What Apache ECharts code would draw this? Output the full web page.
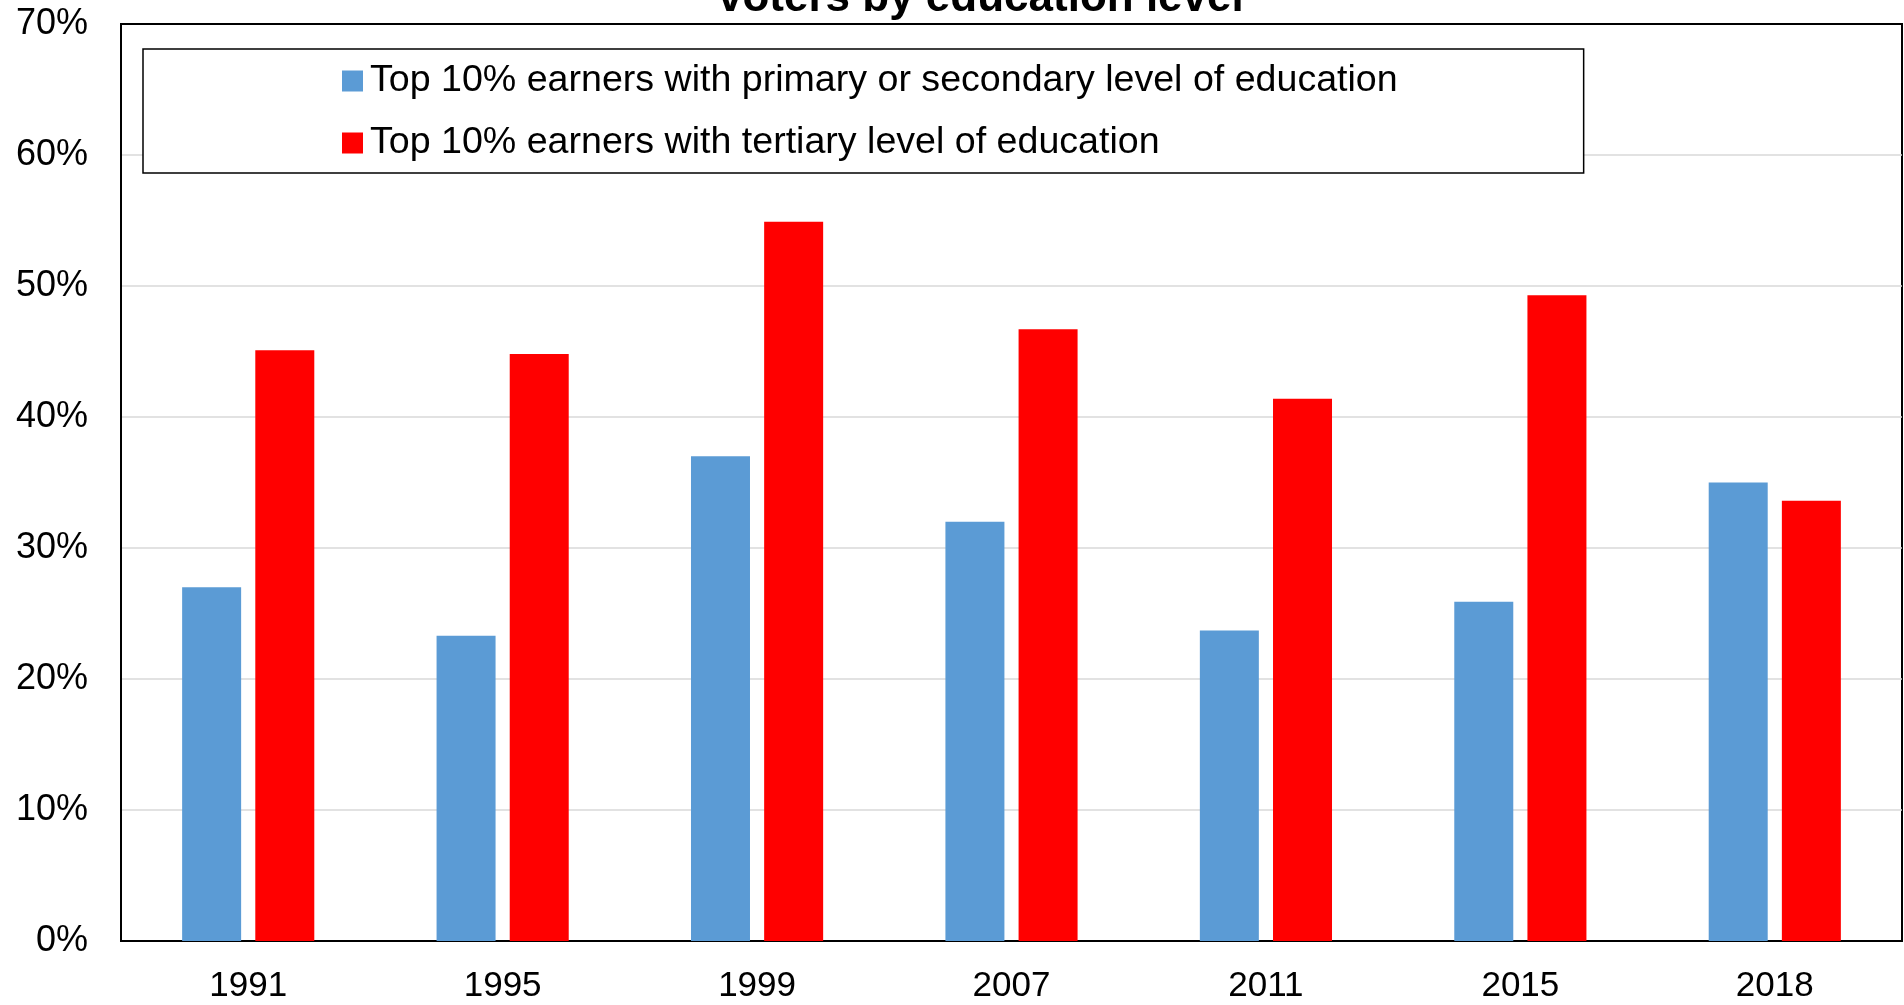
<!DOCTYPE html>
<html lang="en" style="height: 100%">

<head>
  <meta charset="utf-8">
  <style>
    html,
    body {
      margin: 0;
      padding: 0;
      width: 100%;
      height: 100%;
      overflow: hidden;
      background: #fff;
    }
  </style>
  <script type="text/javascript" src="https://cdn.jsdelivr.net/npm/echarts@6/dist/echarts.min.js"></script>
</head>

<body>
  <div id="container" style="height: 100%;width: 100%;"></div>

  <script type="text/javascript">
    // data (percent)
    const years = ['1991', '1995', '1999', '2007', '2011', '2015', '2018'];
    const primarySecondary = [27.0, 23.3, 37.0, 32.0, 23.7, 25.9, 35.0];
    const tertiary = [45.1, 44.8, 54.9, 46.7, 41.4, 49.3, 33.6];
    const seriesNames = [
      'Top 10% earners with primary or secondary level of education',
      'Top 10% earners with tertiary level of education'
    ];
    const yTicks = { min: 0, max: 70, interval: 10 };

    const font = "'Liberation Sans', Arial, sans-serif";

    var dom = document.getElementById('container');
    var myChart = echarts.init(dom, null, { renderer: 'canvas' });

    var option = {
      animation: false,
      backgroundColor: '#ffffff',
      title: {
        text: 'voters by education level',
        left: 718,
        top: -23,
        padding: 0,
        textStyle: {
          fontFamily: font,
          fontSize: 44,
          fontWeight: 'bold',
          color: '#000'
        }
      },
      legend: {
        orient: 'vertical',
        left: 143,
        top: 49,
        padding: [12, 186, 10, 199],
        borderColor: '#000',
        borderWidth: 1.5,
        backgroundColor: '#fff',
        itemWidth: 21,
        itemHeight: 21,
        itemGap: 22,
        icon: 'rect',
        selectedMode: false,
        textStyle: {
          fontFamily: font,
          fontSize: 37.6,
          lineHeight: 40,
          color: '#000',
          padding: [0, 0, 0, 2]
        },
        data: seriesNames
      },
      grid: {
        left: 121,
        right: 2,
        top: 24,
        bottom: 64,
        show: true,
        borderColor: '#000',
        borderWidth: 2,
        containLabel: false
      },
      xAxis: {
        type: 'category',
        data: years,
        axisTick: { show: false },
        axisLine: { lineStyle: { color: '#000', width: 2 } },
        axisLabel: {
          fontFamily: font,
          fontSize: 35,
          color: '#000',
          margin: 28
        }
      },
      yAxis: {
        type: 'value',
        min: yTicks.min,
        max: yTicks.max,
        interval: yTicks.interval,
        axisLine: { show: true, lineStyle: { color: '#000', width: 2 } },
        axisTick: { show: false },
        splitLine: {
          showMinLine: false,
          showMaxLine: false,
          lineStyle: { color: '#d9d9d9', width: 1.5 }
        },
        axisLabel: {
          fontFamily: font,
          fontSize: 36,
          color: '#000',
          margin: 33,
          padding: [7, 0, 0, 0],
          formatter: '{value}%'
        }
      },
      series: [
        {
          name: seriesNames[0],
          type: 'bar',
          data: primarySecondary,
          barWidth: 59,
          barGap: '24%',
          itemStyle: { color: '#5b9bd5' }
        },
        {
          name: seriesNames[1],
          type: 'bar',
          data: tertiary,
          barWidth: 59,
          barGap: '24%',
          itemStyle: { color: '#ff0000' }
        }
      ]
    };

    myChart.setOption(option);
    window.addEventListener('resize', myChart.resize);
  </script>
</body>

</html>
